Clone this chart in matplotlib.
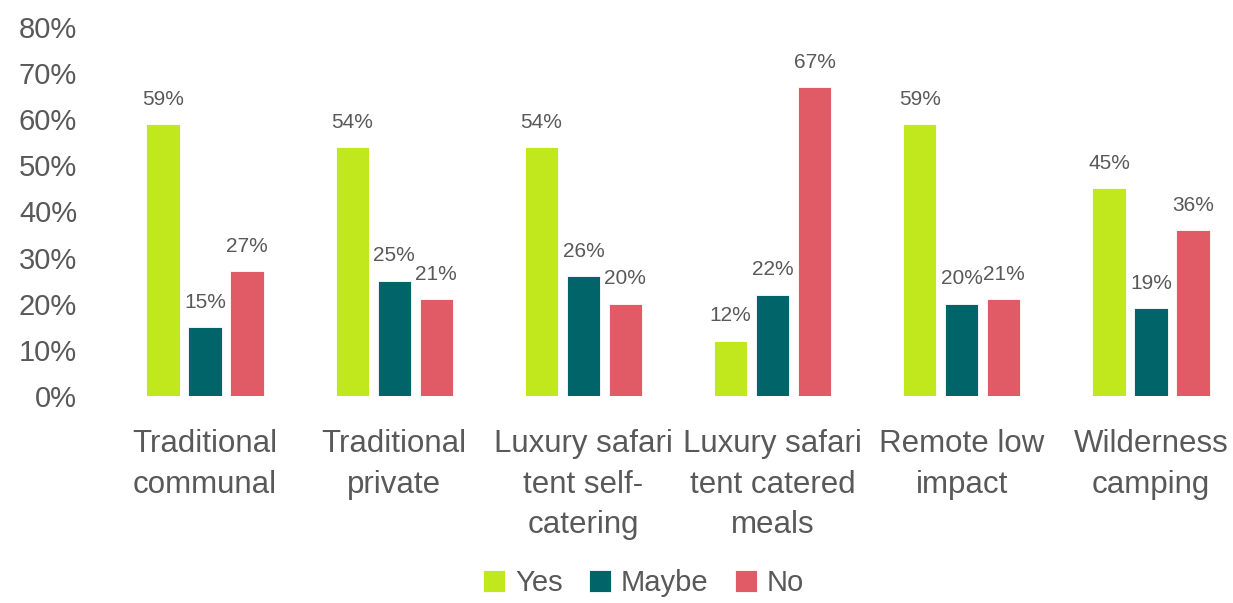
import numpy as np
import matplotlib
matplotlib.use("Agg")
import matplotlib.pyplot as plt
from matplotlib.ticker import PercentFormatter

categories = ["Traditional\ncommunal", "Traditional\nprivate", "Luxury safari\ntent self-\ncatering",
              "Luxury safari\ntent catered\nmeals", "Remote low\nimpact", "Wilderness\ncamping"]
series = ["Yes", "Maybe", "No"]
yes = [59, 54, 54, 12, 59, 45]
maybe = [15, 25, 26, 22, 20, 19]
no = [27, 21, 20, 67, 21, 36]
colors = ["#C1E81C", "#006469", "#E05B66"]

plt.rcParams["font.family"] = ["Liberation Sans", "DejaVu Sans"]
grey = "#595959"

fig = plt.figure(figsize=(12.33, 6.03), dpi=100)
# axes run slightly past the right edge of the figure
ax = fig.add_axes([110.4 / 1233, 1 - 396 / 603, 1135.2 / 1233, 369 / 603])

x = np.arange(len(categories))
step = 0.222
width = 0.176
for k, (vals, name, col) in enumerate(zip([yes, maybe, no], series, colors)):
    pos = x + (k - 1) * step
    ax.bar(pos, np.array(vals) / 100, width, color=col, label=name,
           edgecolor="white", linewidth=0.6)
    for p, v in zip(pos, vals):
        ax.annotate(f"{v}%", (p, v / 100), xytext=(0, 11), textcoords="offset points",
                    ha="center", va="bottom", fontsize=15, color=grey)

ax.set_xlim(-0.5, len(categories) - 0.5)
ax.set_ylim(0, 0.8)
ax.set_yticks(np.arange(0, 0.81, 0.1))
ax.yaxis.set_major_formatter(PercentFormatter(1.0, decimals=0))
ax.set_xticks(x)
ax.set_xticklabels(categories, fontsize=22.5, color=grey, linespacing=1.45)
ax.tick_params(axis="y", labelsize=21, colors=grey, length=0, pad=24)
ax.tick_params(axis="x", length=0, pad=24)
for s in ax.spines.values():
    s.set_visible(False)

fig.legend(loc="center", bbox_to_anchor=(0.522, 1 - 583 / 603), ncol=3, frameon=False,
           fontsize=21, labelcolor=grey, handlelength=0.75, handleheight=0.75,
           handletextpad=0.35, columnspacing=0.9)

fig.savefig("out.png", dpi=100)
